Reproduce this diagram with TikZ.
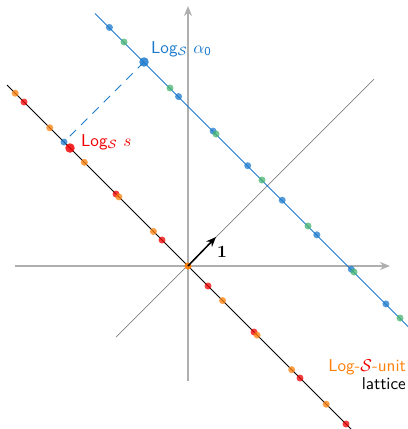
\documentclass[tikz,border=0pt]{standalone}
\usetikzlibrary{arrows.meta}
\definecolor{lblue}{RGB}{28,122,205}
\definecolor{lred}{RGB}{240,0,0}
\definecolor{lorange}{RGB}{255,128,10}
\definecolor{lgreen}{RGB}{70,180,110}
\definecolor{axisgray}{RGB}{175,175,175}
\definecolor{diaggray}{RGB}{130,130,130}
\newcommand{\bigtxt}[1]{\scalebox{1.72}{\sffamily #1}}
\tikzset{
  axisline/.style={draw=axisgray,line width=1.3bp,-{Stealth[length=10bp,width=8bp]}},
  diagline/.style={draw=diaggray,line width=0.7bp},
  latline/.style={line width=0.8bp},
  dot/.style={circle,inner sep=0pt,minimum size=7bp,fill opacity=0.75,draw=none},
  bigdot/.style={circle,inner sep=0pt,minimum size=9.5bp,fill opacity=0.85,draw=none},
  lbl/.style={inner sep=0pt},
}
\begin{document}
\begin{tikzpicture}[x=1bp,y=-1bp]
\useasboundingbox (0,0) rectangle (408,429);
% axes
\coordinate (xl) at (15,266);
\coordinate (xr) at (390,266);
\coordinate (yb) at (188,381);
\coordinate (yt) at (188,6);
\draw[axisline] (xl) -- (xr);
\draw[axisline] (yb) -- (yt);
\coordinate (dA) at (116,337);
\coordinate (dB) at (374,79);
\draw[diagline] (dA) -- (dB);
% lattice lines
\coordinate (bA) at (7,85);
\coordinate (bB) at (351,429);
\draw[latline,black] (bA) -- (bB);
\coordinate (uA) at (95,13.5);
\coordinate (uB) at (408,326.5);
\draw[latline,lblue] (uA) -- (uB);
% special points
\coordinate (alpha) at (144,62);
\coordinate (proj) at (64,142);
\draw[lblue,line width=0.8bp,dash pattern=on 9bp off 7bp] (alpha) -- (proj);
% red dots on black line
\foreach \k in {-1,1,2,3,4,5,6}{
  \pgfmathsetmacro{\xx}{70+46*\k}
  \node[dot,fill=lred] (r\k) at (\xx,\xx+78) {};
}
% orange dots
\foreach \k in {-5,...,4}{
  \pgfmathsetmacro{\xx}{188+34.56*\k}
  \node[dot,fill=lorange] (o\k) at (\xx,\xx+78) {};
}
% blue dots on blue line
\foreach \k in {-1,1,2,3,4,5,6,7}{
  \pgfmathsetmacro{\xx}{144+34.56*\k}
  \node[dot,fill=lblue] (b\k) at (\xx,\xx-82) {};
}
% green dots
\foreach \k in {0,...,6}{
  \pgfmathsetmacro{\xx}{124+46*\k}
  \node[dot,fill=lgreen] (g\k) at (\xx,\xx-82) {};
}
\node[dot,fill=lblue] (pj) at (proj) {};
\node[bigdot,fill=lblue] (al) at (alpha) {};
\node[bigdot,fill=lred] (ls) at (70,148) {};
% unit arrow
\node[dot,fill=lorange] (orig) at (188,266) {};
\coordinate (one) at (216,237);
\draw[black,line width=1.5bp,-{Stealth[length=10bp,width=8bp]}] (orig.center) -- (one);
\node[lbl,anchor=base west] (onel) at (217,257) {\bigtxt{$\mathbf{1}$}};
% labels
\node[lbl,anchor=base west,text=lblue] (la) at (151,53) {\bigtxt{Log$_{\mathcal{S}}$ $\alpha_{\mathsf{0}}$}};
\node[lbl,anchor=base west,text=lred] (lsl) at (81,146) {\bigtxt{Log$_{\mathcal{S}}$ $s$}};
\node[lbl,anchor=base east,text=lorange] (lu) at (406,371) {\bigtxt{Log-$\color{lred}\mathcal{S}$-unit}};
\node[lbl,anchor=base east] (ll) at (406,389) {\bigtxt{lattice}};
\end{tikzpicture}
\end{document}
